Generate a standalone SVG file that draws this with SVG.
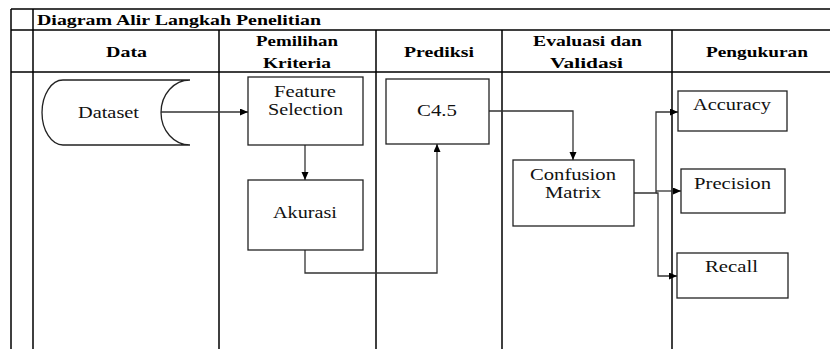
<svg xmlns="http://www.w3.org/2000/svg" width="830" height="349" viewBox="0 0 830 349">
<defs>
<marker id="ah" markerWidth="9" markerHeight="8" refX="8" refY="3.5" orient="auto" markerUnits="userSpaceOnUse">
<path d="M0,0 L8,3.5 L0,7 z" fill="#000"/>
</marker>
<style>
.grid{stroke:#000;stroke-width:1.5;fill:none}
.box{fill:#fff;stroke:#222;stroke-width:1.3}
.hd{font-weight:bold;font-size:15.5px;fill:#000;text-anchor:middle}
.tt{font-weight:bold;font-size:14.5px;fill:#000}
.lb{font-size:16.5px;fill:#111;text-anchor:middle}
.cn{stroke:#333;stroke-width:1.3;fill:none;marker-end:url(#ah)}
</style>
</defs>
<rect width="830" height="349" fill="#fff"/>
<g id="table">
<path class="grid" d="M11,9 H830 M11,30 H830 M11,72 H830 M11,9 V349 M33,9 V349 M219,30 V349 M376,30 V349 M502,30 V349 M672,30 V349"/>
<text class="tt" font-family="Liberation Serif" x="37" y="25" textLength="284" lengthAdjust="spacingAndGlyphs">Diagram Alir Langkah Penelitian</text>
<text class="hd" font-family="Liberation Serif" x="126.5" y="57" textLength="41" lengthAdjust="spacingAndGlyphs">Data</text>
<text class="hd" font-family="Liberation Serif" x="297" y="46" textLength="82" lengthAdjust="spacingAndGlyphs">Pemilihan</text>
<text class="hd" font-family="Liberation Serif" x="297" y="68" textLength="68" lengthAdjust="spacingAndGlyphs">Kriteria</text>
<text class="hd" font-family="Liberation Serif" x="439" y="57" textLength="70" lengthAdjust="spacingAndGlyphs">Prediksi</text>
<text class="hd" font-family="Liberation Serif" x="587.5" y="46" textLength="109" lengthAdjust="spacingAndGlyphs">Evaluasi dan</text>
<text class="hd" font-family="Liberation Serif" x="586.5" y="68" textLength="73" lengthAdjust="spacingAndGlyphs">Validasi</text>
<text class="hd" font-family="Liberation Serif" x="757" y="57" textLength="102" lengthAdjust="spacingAndGlyphs">Pengukuran</text>
</g>
<g id="connectors">
<path class="cn" d="M161,112 H248"/>
<path class="cn" d="M305,145 V180"/>
<path class="cn" d="M305,250 V273 H437 V144"/>
<path class="cn" d="M489,111 H573 V160"/>
<path class="cn" d="M634,193 H656 V112 H678"/>
<path class="cn" d="M656,191 H681"/>
<path class="cn" d="M656,193 H658 V276 H677"/>
</g>
<g id="dataset">
<path class="box" d="M63,80 H190 A29,32.5 0 0 0 190,145 H63 A21,32.5 0 0 1 63,80 Z"/>
<text class="lb" font-family="Liberation Serif" x="108.5" y="118" textLength="61" lengthAdjust="spacingAndGlyphs">Dataset</text>
</g>
<g id="feature-selection">
<rect class="box" x="248" y="77" width="115" height="68"/>
<text class="lb" font-family="Liberation Serif" x="305" y="97" textLength="62" lengthAdjust="spacingAndGlyphs">Feature</text>
<text class="lb" font-family="Liberation Serif" x="305.5" y="115" textLength="75" lengthAdjust="spacingAndGlyphs">Selection</text>
</g>
<g id="akurasi">
<rect class="box" x="248" y="180" width="115" height="70"/>
<text class="lb" font-family="Liberation Serif" x="305" y="218" textLength="64" lengthAdjust="spacingAndGlyphs">Akurasi</text>
</g>
<g id="c45">
<rect class="box" x="386" y="79" width="103" height="65"/>
<text class="lb" font-family="Liberation Serif" x="437" y="116" textLength="40" lengthAdjust="spacingAndGlyphs">C4.5</text>
</g>
<g id="confusion-matrix">
<rect class="box" x="513" y="160" width="121" height="66"/>
<text class="lb" font-family="Liberation Serif" x="573" y="180" textLength="86" lengthAdjust="spacingAndGlyphs">Confusion</text>
<text class="lb" font-family="Liberation Serif" x="573" y="198" textLength="56" lengthAdjust="spacingAndGlyphs">Matrix</text>
</g>
<g id="accuracy">
<rect class="box" x="678" y="91" width="109" height="40"/>
<text class="lb" font-family="Liberation Serif" x="732" y="110" textLength="78" lengthAdjust="spacingAndGlyphs">Accuracy</text>
</g>
<g id="precision">
<rect class="box" x="681" y="169" width="104" height="44"/>
<text class="lb" font-family="Liberation Serif" x="732.5" y="189" textLength="77" lengthAdjust="spacingAndGlyphs">Precision</text>
</g>
<g id="recall">
<rect class="box" x="677" y="253" width="111" height="45"/>
<text class="lb" font-family="Liberation Serif" x="731.5" y="272" textLength="53" lengthAdjust="spacingAndGlyphs">Recall</text>
</g>
</svg>
